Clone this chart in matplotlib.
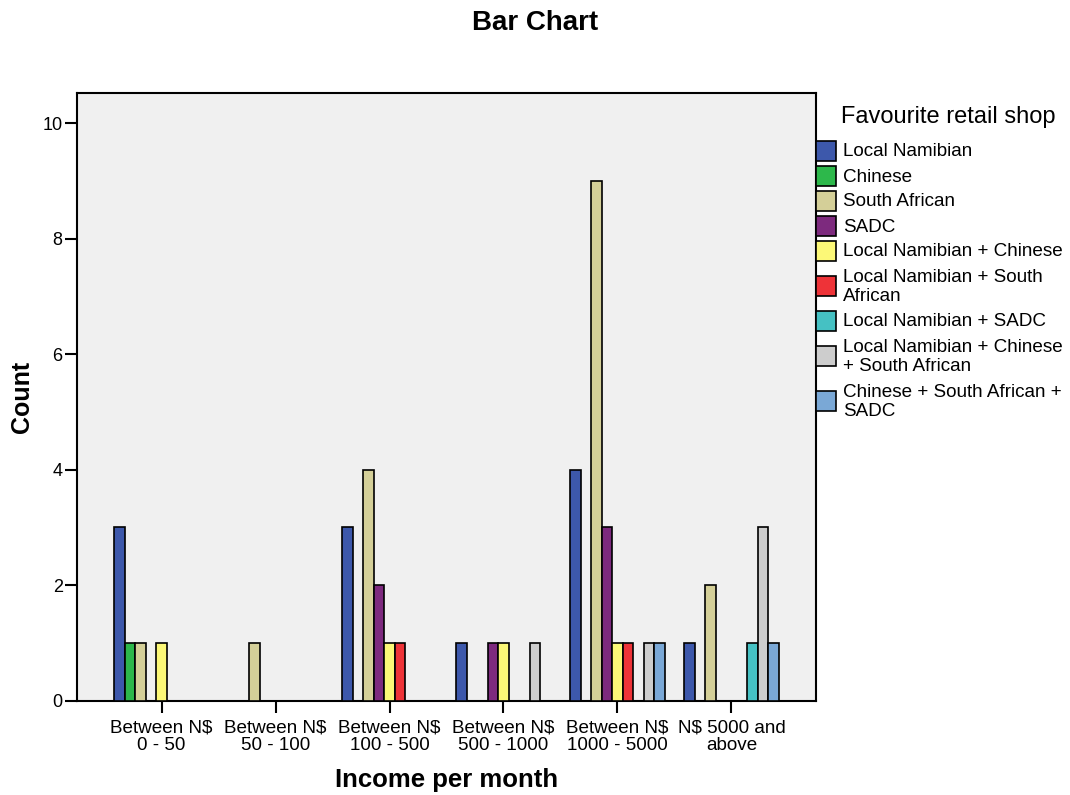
import numpy as np
import matplotlib
matplotlib.use("Agg")
import matplotlib.pyplot as plt
from matplotlib.patches import Rectangle

plt.rcParams['font.family'] = ['Liberation Sans', 'DejaVu Sans']

income_groups = ["Between N$\n0 - 50", "Between N$\n50 - 100", "Between N$\n100 - 500",
                 "Between N$\n500 - 1000", "Between N$\n1000 - 5000", "N$ 5000 and\nabove"]

shops = ["Local Namibian", "Chinese", "South African", "SADC",
         "Local Namibian + Chinese", "Local Namibian + South African",
         "Local Namibian + SADC", "Local Namibian + Chinese + South African",
         "Chinese + South African + SADC"]

legend_labels = ["Local Namibian", "Chinese", "South African", "SADC",
                 "Local Namibian + Chinese", "Local Namibian + South\nAfrican",
                 "Local Namibian + SADC", "Local Namibian + Chinese\n+ South African",
                 "Chinese + South African +\nSADC"]

# counts per shop, one value per income group
local_namibian = [3, 0, 3, 1, 4, 1]
chinese = [1, 0, 0, 0, 0, 0]
south_african = [1, 1, 4, 0, 9, 2]
sadc = [0, 0, 2, 1, 3, 0]
ln_chinese = [1, 0, 1, 1, 1, 0]
ln_south_african = [0, 0, 1, 0, 1, 0]
ln_sadc = [0, 0, 0, 0, 0, 1]
ln_chinese_sa = [0, 0, 0, 1, 1, 3]
chinese_sa_sadc = [0, 0, 0, 0, 1, 1]

counts = [local_namibian, chinese, south_african, sadc, ln_chinese,
          ln_south_african, ln_sadc, ln_chinese_sa, chinese_sa_sadc]

colors = ["#3D58AB", "#2DB84B", "#D4CF98", "#7D2A7E", "#FCF877",
          "#EE3338", "#45C1C3", "#CDCDCD", "#7AA8D6"]

W, H = 1070, 795
fig = plt.figure(figsize=(W / 100, H / 100), dpi=100)
ax = fig.add_axes([77.3 / W, 1 - 700.7 / H, 738.4 / W, 607.4 / H])
ax.set_facecolor("#F0F0F0")

x = np.arange(len(income_groups))
n = len(shops)
bw = 0.0924
for i, vals in enumerate(counts):
    vals = np.array(vals)
    pos = x + (i - (n - 1) / 2) * bw
    m = vals > 0
    ax.bar(pos[m], vals[m], width=bw, color=colors[i], edgecolor="black",
           linewidth=1.2, zorder=3)

ax.set_xlim(-0.74, 5.74)
ax.set_ylim(0, 10.52)
ax.set_yticks([0, 2, 4, 6, 8, 10])
ax.set_xticks(x)
ax.set_xticklabels(income_groups, linespacing=1.08)
ax.tick_params(axis="both", direction="out", length=8.5, width=1.5, labelsize=13)
ax.tick_params(axis="x", labelsize=13.6, pad=5)
ax.tick_params(axis="y", pad=2)
for s in ax.spines.values():
    s.set_linewidth(1.5)

fig.text(0.5, 1 - 30 / H, "Bar Chart", ha="center", va="baseline",
         fontsize=20, fontweight="bold")
fig.text(446.5 / W, 1 - 787 / H, "Income per month", ha="center", va="baseline",
         fontsize=18.5, fontweight="bold")
fig.text(22 / W, 1 - 397 / H, "Count", ha="center", va="center", rotation=90,
         fontsize=18, fontweight="bold")

# legend drawn by hand to the right of the plot
fig.text(841 / W, 1 - 123 / H, "Favourite retail shop", ha="left", va="baseline",
         fontsize=17)
yc = 152
prev_h = None
for lab, col in zip(legend_labels, colors):
    h = 25 + 20 * lab.count("\n")
    if prev_h is not None:
        yc += (prev_h + h) / 2
    prev_h = h
    fig.add_artist(Rectangle((816 / W, 1 - (yc + 9) / H), 20 / W, 20 / H,
                             transform=fig.transFigure, facecolor=col,
                             edgecolor="black", linewidth=1.2))
    fig.text(843 / W, 1 - yc / H, lab, ha="left", va="center", fontsize=13.6,
             linespacing=1.12)

fig.savefig("out.png", dpi=100)
